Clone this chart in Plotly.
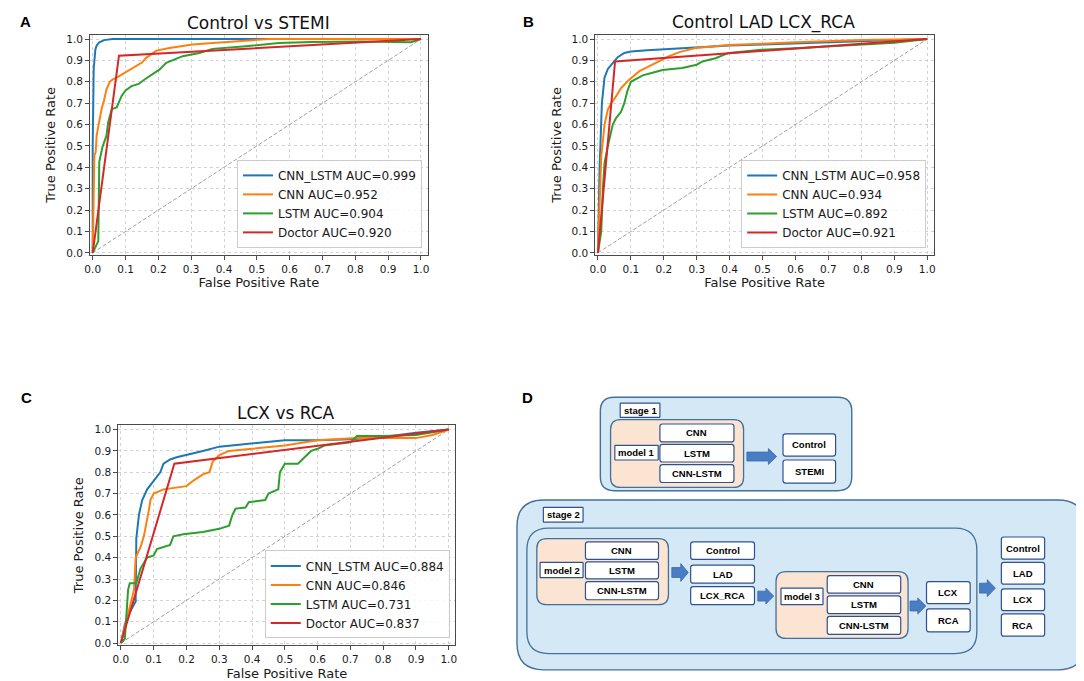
import plotly.graph_objects as go

W, H = 1084, 681

# ---- ROC values ----
names = ["CNN_LSTM", "CNN", "LSTM", "Doctor"]
colors = ["#1f77b4", "#ff7f0e", "#2ca02c", "#d62728"]

# A: Control vs STEMI
a_auc = ["0.999", "0.952", "0.904", "0.920"]
a_cnnlstm_fpr = [0, 0.0, 0.003, 0.005, 0.008, 0.012, 0.02, 0.035, 0.06, 1.0]
a_cnnlstm_tpr = [0, 0.5, 0.86, 0.9, 0.95, 0.97, 0.985, 0.995, 1.0, 1.0]
a_cnn_fpr = [0, 0.003, 0.005, 0.009, 0.012, 0.018, 0.022, 0.028, 0.034, 0.042, 0.052, 0.06, 0.073,
             0.09, 0.108, 0.133, 0.15, 0.163, 0.18, 0.194, 0.234, 0.304, 0.365, 0.466, 0.536, 1.0]
a_cnn_tpr = [0, 0.3, 0.456, 0.47, 0.548, 0.6, 0.64, 0.68, 0.71, 0.765, 0.80, 0.81, 0.82,
             0.835, 0.85, 0.873, 0.89, 0.912, 0.93, 0.946, 0.958, 0.974, 0.981, 0.992, 1.0, 1.0]
a_lstm_fpr = [0, 0.01, 0.017, 0.02, 0.025, 0.03, 0.042, 0.047, 0.058, 0.073, 0.088, 0.1, 0.118,
              0.14, 0.158, 0.189, 0.204, 0.224, 0.25, 0.274, 0.325, 0.365, 0.466, 0.567, 0.667,
              0.818, 0.97, 1.0]
a_lstm_tpr = [0, 0.03, 0.055, 0.426, 0.47, 0.497, 0.548, 0.61, 0.672, 0.68, 0.734, 0.76, 0.78,
              0.79, 0.811, 0.842, 0.858, 0.889, 0.905, 0.92, 0.935, 0.954, 0.966, 0.981, 0.986,
              0.989, 0.985, 1.0]
a_doc_fpr = [0, 0.08, 1.0]
a_doc_tpr = [0, 0.922, 1.0]

# B: Control LAD LCX_RCA
b_auc = ["0.958", "0.934", "0.892", "0.921"]
b_cnnlstm_fpr = [0, 0.005, 0.012, 0.02, 0.03, 0.045, 0.06, 0.08, 0.1, 0.15, 0.2, 0.3, 0.4, 0.5,
                 0.6, 0.7, 0.8, 0.9, 1.0]
b_cnnlstm_tpr = [0, 0.4, 0.7, 0.82, 0.86, 0.89, 0.915, 0.935, 0.942, 0.948, 0.953, 0.963, 0.97,
                 0.975, 0.98, 0.985, 0.99, 0.995, 1.0]
b_cnn_fpr = [0, 0.005, 0.01, 0.02, 0.03, 0.04, 0.05, 0.07, 0.095, 0.126, 0.15, 0.176, 0.216, 0.25,
             0.296, 0.35, 0.397, 0.5, 0.6, 0.8, 1.0]
b_cnn_tpr = [0, 0.25, 0.45, 0.6, 0.67, 0.7, 0.72, 0.77, 0.81, 0.85, 0.87, 0.889, 0.92, 0.94,
             0.958, 0.965, 0.972, 0.978, 0.985, 0.995, 1.0]
b_lstm_fpr = [0, 0.01, 0.015, 0.02, 0.03, 0.04, 0.045, 0.055, 0.07, 0.08, 0.09, 0.1, 0.12, 0.136,
              0.16, 0.196, 0.256, 0.3, 0.317, 0.357, 0.397, 0.45, 0.497, 0.6, 0.698, 0.8, 0.9, 1.0]
b_lstm_tpr = [0, 0.1, 0.3, 0.42, 0.5, 0.56, 0.6, 0.63, 0.66, 0.7, 0.76, 0.8, 0.815, 0.83,
              0.84, 0.855, 0.865, 0.88, 0.895, 0.91, 0.935, 0.942, 0.95, 0.957, 0.966, 0.975,
              0.983, 1.0]
b_doc_fpr = [0, 0.052, 1.0]
b_doc_tpr = [0, 0.895, 1.0]

# C: LCX vs RCA
c_auc = ["0.884", "0.846", "0.731", "0.837"]
c_cnnlstm_fpr = [0, 0.012, 0.022, 0.035, 0.045, 0.047, 0.05, 0.055, 0.065, 0.08, 0.1, 0.12, 0.13,
                 0.15, 0.17, 0.2, 0.25, 0.3, 0.4, 0.5, 0.6, 0.7, 0.8, 0.9, 1.0]
c_cnnlstm_tpr = [0, 0.087, 0.13, 0.17, 0.195, 0.49, 0.54, 0.6, 0.67, 0.72, 0.76, 0.8, 0.84,
                 0.86, 0.87, 0.88, 0.9, 0.92, 0.935, 0.95, 0.95, 0.955, 0.965, 0.985, 1.0]
c_cnn_fpr = [0, 0.02, 0.04, 0.045, 0.06, 0.07, 0.08, 0.085, 0.09, 0.1, 0.13, 0.17, 0.2, 0.22,
             0.25, 0.27, 0.28, 0.3, 0.33, 0.4, 0.5, 0.6, 0.7, 0.72, 0.9, 0.95, 1.0]
c_cnn_tpr = [0, 0.13, 0.25, 0.4, 0.45, 0.5, 0.57, 0.62, 0.67, 0.7, 0.72, 0.73, 0.735, 0.76,
             0.79, 0.8, 0.85, 0.88, 0.9, 0.91, 0.925, 0.95, 0.96, 0.96, 0.96, 0.975, 1.0]
c_lstm_fpr = [0, 0.012, 0.022, 0.027, 0.047, 0.06, 0.08, 0.1, 0.11, 0.13, 0.15, 0.16, 0.19, 0.25,
              0.3, 0.33, 0.34, 0.35, 0.38, 0.39, 0.44, 0.45, 0.48, 0.485, 0.5, 0.54, 0.56, 0.58,
              0.6, 0.62, 0.7, 0.72, 0.8, 0.9, 1.0]
c_lstm_tpr = [0, 0.02, 0.25, 0.28, 0.28, 0.35, 0.4, 0.41, 0.44, 0.45, 0.46, 0.5, 0.51, 0.52,
              0.535, 0.55, 0.6, 0.63, 0.635, 0.66, 0.67, 0.7, 0.72, 0.8, 0.84, 0.84, 0.87, 0.9,
              0.91, 0.925, 0.94, 0.97, 0.97, 0.975, 1.0]
c_doc_fpr = [0, 0.163, 1.0]
c_doc_tpr = [0, 0.84, 1.0]


def px(x):
    return x / W


def py(y):
    return 1 - y / H


panels = [
    # axis suffix, legend id, title, curves, auc, x0/x1 px of ticks 0 and 1, y px of ticks 0 and 1
    ("", "legend", "Control vs STEMI",
     [(a_cnnlstm_fpr, a_cnnlstm_tpr), (a_cnn_fpr, a_cnn_tpr), (a_lstm_fpr, a_lstm_tpr), (a_doc_fpr, a_doc_tpr)],
     a_auc, (79.3, 410.0), (245.0, 29.3), (246, 13.3), (411, 240)),
    ("2", "legend2", "Control LAD LCX_RCA",
     [(b_cnnlstm_fpr, b_cnnlstm_tpr), (b_cnn_fpr, b_cnn_tpr), (b_lstm_fpr, b_lstm_tpr), (b_doc_fpr, b_doc_tpr)],
     b_auc, (588.3, 920.0), (245.0, 29.3), (755, 13), (919, 240)),
    ("3", "legend3", "LCX vs RCA",
     [(c_cnnlstm_fpr, c_cnnlstm_tpr), (c_cnn_fpr, c_cnn_tpr), (c_lstm_fpr, c_lstm_tpr), (c_doc_fpr, c_doc_tpr)],
     c_auc, (107.7, 438.0), (638.7, 423.3), (274, 406.7), (439, 634)),
]

XR = [-0.0075, 1.02]
YR = [-0.01, 1.02]

fig = go.Figure()
layout = dict(width=W, height=H, margin=dict(l=0, r=0, t=0, b=0),
              paper_bgcolor="white", plot_bgcolor="white", showlegend=True,
              font=dict(family="DejaVu Sans", color="#1a1a1a"))
annotations = []

for suf, leg, title, curves, aucs, (x0p, x1p), (y0p, y1p), tpos, lpos in panels:
    xa, ya = "x" + suf, "y" + suf
    fig.add_trace(go.Scatter(x=[0, 1], y=[0, 1], mode="lines", xaxis=xa, yaxis=ya,
                             line=dict(color="#a0a0a0", width=1, dash="4px,2px"),
                             showlegend=False, hoverinfo="skip"))
    for (fx, ty), nm, au, col in zip(curves, names, aucs, colors):
        fig.add_trace(go.Scatter(x=fx, y=ty, mode="lines", xaxis=xa, yaxis=ya, legend=leg,
                                 name=f"{nm} AUC={au}", line=dict(color=col, width=2)))
    sx = x1p - x0p
    sy = y0p - y1p
    dom_x = [px(x0p + XR[0] * sx), px(x0p + XR[1] * sx)]
    dom_y = [py(y0p - YR[0] * sy), py(y0p - YR[1] * sy)]
    common = dict(dtick=0.1, tickformat=".1f", showgrid=True, gridcolor="#d2d2d2", griddash="dot",
                  gridwidth=1, zeroline=False, showline=True, mirror=True, linecolor="#4a4a4a",
                  linewidth=1.2, ticks="outside", ticklen=4, tickwidth=1, tickcolor="#4a4a4a",
                  tickfont=dict(size=10.5, color="#1a1a1a"), fixedrange=True)
    layout["xaxis" + suf] = dict(common, domain=dom_x, range=XR, anchor=ya,
                                 title=dict(text="False Positive Rate", font=dict(size=13), standoff=4))
    layout["yaxis" + suf] = dict(common, domain=dom_y, range=YR, anchor=xa,
                                 title=dict(text="True Positive Rate", font=dict(size=13), standoff=7))
    layout[leg] = dict(x=px(lpos[0]), y=py(lpos[1]), xanchor="right", yanchor="bottom",
                       bgcolor="rgba(255,255,255,0.85)", bordercolor="#cccccc", borderwidth=1,
                       font=dict(size=12, family="DejaVu Sans", color="#1a1a1a"),
                       tracegroupgap=0, itemwidth=30)
    annotations.append(dict(text=title, x=px(tpos[0]), y=py(tpos[1]), xref="paper", yref="paper",
                            showarrow=False, xanchor="center", yanchor="middle",
                            font=dict(size=17, family="DejaVu Sans", color="#111")))

# panel letters
for letter, lx, ly in [("A", 12, 12), ("B", 518, 12), ("C", 13, 391), ("D", 517, 391)]:
    annotations.append(dict(text=f"<b>{letter}</b>", x=px(lx), y=py(ly), xref="paper", yref="paper",
                            showarrow=False, xanchor="center", yanchor="middle",
                            font=dict(size=15, family="Liberation Sans", color="black")))

# ---- panel D: pipeline diagram (pixel layout) ----
BLUE_FILL = "#d5e8f6"
BLUE_LINE = "#41719c"
ORANGE_FILL = "#fbe5d2"
BOX_LINE = "#2f528f"
ARROW_FILL = "#4a7ec4"


def rrect(x0, y0, x1, y1, r):
    p = [("M", x0 + r, y0), ("L", x1 - r, y0), ("Q", x1, y0, x1, y0 + r), ("L", x1, y1 - r),
         ("Q", x1, y1, x1 - r, y1), ("L", x0 + r, y1), ("Q", x0, y1, x0, y1 - r),
         ("L", x0, y0 + r), ("Q", x0, y0, x0 + r, y0)]
    out = []
    for seg in p:
        cmd, vals = seg[0], seg[1:]
        coords = []
        for i in range(0, len(vals), 2):
            coords.append(f"{px(vals[i]):.5f},{py(vals[i + 1]):.5f}")
        out.append(cmd + " ".join(coords))
    return " ".join(out) + " Z"


def arrow(x0, x1, xh, yc, sh, hh):
    pts = [(x0, yc - sh), (xh, yc - sh), (xh, yc - hh), (x1, yc), (xh, yc + hh), (xh, yc + sh), (x0, yc + sh)]
    return "M" + " L".join(f"{px(a):.5f},{py(b):.5f}" for a, b in pts) + " Z"


shapes = []


def box(x0, y0, x1, y1, r, fill, line, lw=1.2):
    shapes.append(dict(type="path", path=rrect(x0, y0, x1, y1, r), xref="paper", yref="paper",
                       fillcolor=fill, line=dict(color=line, width=lw), layer="above"))


def label(x0, y0, x1, y1, text, r=2.5):
    box(x0, y0, x1, y1, r, "white", BOX_LINE, 1.2)
    annotations.append(dict(text=f"<b>{text}</b>", x=px((x0 + x1) / 2), y=py((y0 + y1) / 2),
                            xref="paper", yref="paper", showarrow=False, xanchor="center",
                            yanchor="middle", font=dict(size=9.5, family="Liberation Sans", color="black")))


def block_arrow(x0, x1, xh, yc, sh=4.5, hh=8):
    shapes.append(dict(type="path", path=arrow(x0, x1, xh, yc, sh, hh), xref="paper", yref="paper",
                       fillcolor=ARROW_FILL, line=dict(color="#3a68a8", width=0.8), layer="above"))


# stage 1
box(590.7, 390.7, 844, 485, 14, BLUE_FILL, BLUE_LINE, 1.4)
label(610.7, 396.7, 650.7, 411, "stage 1", r=0.5)
box(601, 413.3, 735, 481.7, 10, ORANGE_FILL, BLUE_LINE, 1.3)
label(605.3, 439.3, 649, 454, "model 1", r=0.5)
for (t, b), txt in zip([(417.7, 435.7), (438.3, 456), (458.7, 476.7)], ["CNN", "LSTM", "CNN-LSTM"]):
    label(650.7, t, 725.3, b, txt)
block_arrow(738.3, 768.3, 760, 450.5, 4.5, 8)
label(774.7, 427.7, 827.7, 450, "Control")
label(774.7, 454, 827.7, 477.3, "STEMI")

# stage 2
box(506.7, 494.3, 1078.7, 665.7, 27, BLUE_FILL, BLUE_LINE, 1.4)
label(533.3, 501.7, 573.3, 516.7, "stage 2", r=0.5)
box(516.7, 522.7, 970, 649.3, 22, BLUE_FILL, BLUE_LINE, 1.3)
box(526.7, 533.3, 659.3, 600, 10, ORANGE_FILL, BLUE_LINE, 1.3)
label(530, 557.3, 573.3, 572.7, "model 2", r=0.5)
for (t, b), txt in zip([(536.7, 554.3), (556.7, 574), (576.7, 595)], ["CNN", "LSTM", "CNN-LSTM"]):
    label(575.7, t, 649.3, b, txt)
block_arrow(662.7, 679.3, 671.7, 567.5, 5, 9)
for (t, b), txt in zip([(536.7, 554.3), (560, 578.3), (581.7, 600)], ["Control", "LAD", "LCX_RCA"]):
    label(681.7, t, 746, b, txt)
block_arrow(749.3, 765.3, 757.5, 591.3, 5, 8)
box(767.7, 566.7, 900.7, 634, 10, ORANGE_FILL, BLUE_LINE, 1.3)
label(772.7, 583.3, 815, 600, "model 3", r=0.5)
for (t, b), txt in zip([(570.7, 588.3), (591, 609), (611.7, 630)], ["CNN", "LSTM", "CNN-LSTM"]):
    label(819.3, t, 893.3, b, txt)
block_arrow(902.7, 918.7, 910.5, 601.3, 5, 8)
label(919.3, 576.7, 963.3, 599, "LCX")
label(919.3, 604.3, 963.3, 627.3, "RCA")
block_arrow(972.7, 988.7, 980.5, 583.3, 5, 8.5)
for (t, b), txt in zip([(531.7, 554), (557.3, 579.3), (584, 606), (609.3, 631.7)],
                       ["Control", "LAD", "LCX", "RCA"]):
    label(994.7, t, 1038.3, b, txt)

layout["annotations"] = annotations
layout["shapes"] = shapes
fig.update_layout(**layout)
fig.write_html("out.html")
